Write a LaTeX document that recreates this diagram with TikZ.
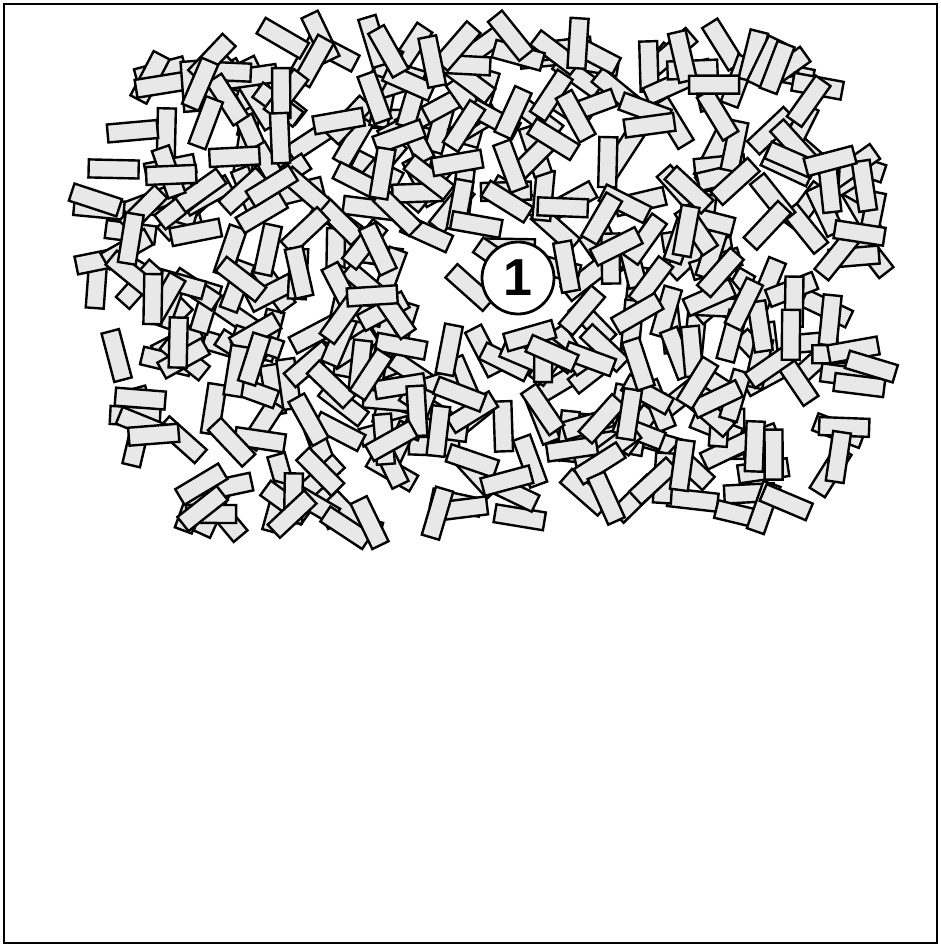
\documentclass[tikz,border=0pt]{standalone}
\usepackage{fontspec}
\newfontfamily\tagfont{Liberation Sans}

\begin{document}
\begin{tikzpicture}[x=1pt, y=-1pt,
    brick/.style={draw=black, fill=black!9, line width=2.4pt},
    tag/.style={circle, draw=black, fill=white, line width=2.8pt, minimum size=72pt, inner sep=0pt, font=\tagfont\bfseries\fontsize{52}{52}\selectfont}]
        \useasboundingbox (0,0) rectangle (941,947);
        \draw[line width=2.5pt] (4,4) rectangle (937,943);

        % random pile of bricks, kept inside a rounded square
        \pgfmathsetseed{4217}
        \foreach \i in {1,...,490}{
            \pgfmathsetmacro\u{rand}
            \pgfmathsetmacro\v{rand}
            \pgfmathsetmacro\a{180*rnd}
            \pgfmathtruncatemacro\keep{(\u*\u*\u*\u+\v*\v*\v*\v<1)?1:0}
            \ifnum\keep=1
                \pgfmathsetmacro\px{482+395*\u}
                \pgfmathsetmacro\py{282+248*\v}
                \draw[brick, rotate around={\a:(\px,\py)}] (\px-25,\py-9) rectangle (\px+25,\py+9);
            \fi
        }

        \node[tag] (one) at (518,278) {1};
    \end{tikzpicture}
\end{document}
